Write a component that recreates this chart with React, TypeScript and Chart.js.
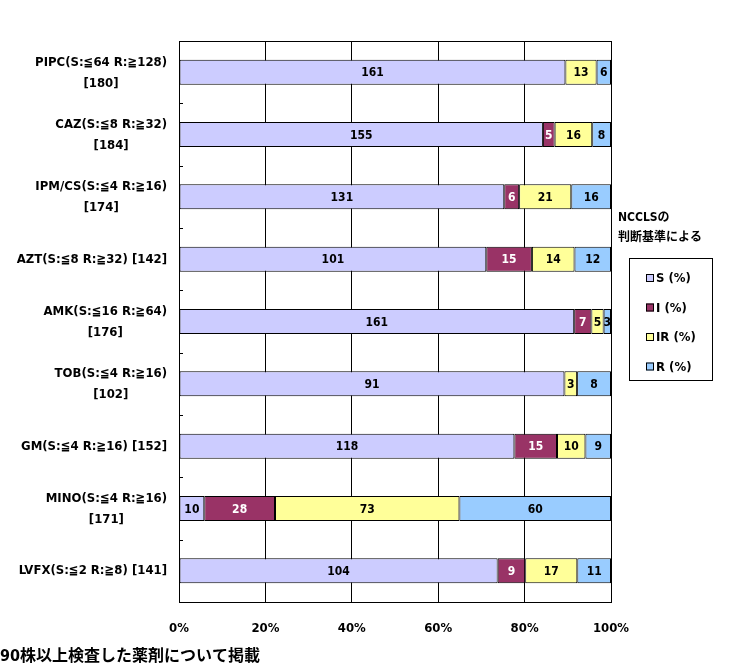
import { Chart, registerables } from "chart.js";
import { useEffect, useRef } from "react";

Chart.register(...registerables);

// 薬剤名 (判定基準) [株数]
const categories: string[][] = [
    ["PIPC(S:≦64 R:≧128)", "[180]"],
    ["CAZ(S:≦8 R:≧32)", "[184]"],
    ["IPM/CS(S:≦4 R:≧16)", "[174]"],
    ["AZT(S:≦8 R:≧32) [142]"],
    ["AMK(S:≦16 R:≧64)", "[176]"],
    ["TOB(S:≦4 R:≧16)", "[102]"],
    ["GM(S:≦4 R:≧16) [152]"],
    ["MINO(S:≦4 R:≧16)", "[171]"],
    ["LVFX(S:≦2 R:≧8) [141]"],
];

const seriesNames = ["S (%)", "I (%)", "IR (%)", "R (%)"];
const seriesColors = ["#CCCCFF", "#993366", "#FFFF99", "#99CCFF"];
const labelColors = ["#000000", "#FFFFFF", "#000000", "#000000"];

// 株数
const sValues = [161, 155, 131, 101, 161, 91, 118, 10, 104];
const iValues = [0, 5, 6, 15, 7, 0, 15, 28, 9];
const irValues = [13, 16, 21, 14, 5, 3, 10, 73, 17];
const rValues = [6, 8, 16, 12, 3, 8, 9, 60, 11];

const xTickLabels = ["0%", "20%", "40%", "60%", "80%", "100%"];

const legendTitle = ["NCCLSの", "判断基準による"];
const footNote = "90株以上検査した薬剤について掲載";

const FONT = '"Liberation Sans Narrow", "DejaVu Sans Condensed", "Noto Sans CJK JP", sans-serif';

export default function App() {
    const canvasRef = useRef<HTMLCanvasElement | null>(null);
    const chartRef = useRef<Chart | null>(null);

    useEffect(() => {
        if (!canvasRef.current) return;

        const counts = [sValues, iValues, irValues, rValues];
        const totals = sValues.map((_, i) => counts.reduce((a, s) => a + s[i], 0));

        const datasets = counts.map((vals, k) => ({
            label: seriesNames[k],
            data: vals.map((v, i) => (v > 0 ? (v / totals[i]) * 100 : null)),
            backgroundColor: seriesColors[k],
            borderColor: "#000000",
            borderWidth: 1,
            borderSkipped: false,
            barPercentage: 0.4,
            categoryPercentage: 1.0,
        }));

        // 棒の中の株数
        const valueLabels = {
            id: "valueLabels",
            afterDatasetsDraw(chart: any) {
                const { ctx } = chart;
                ctx.save();
                ctx.font = "bold 12px " + FONT;
                ctx.textAlign = "center";
                ctx.textBaseline = "middle";
                counts.forEach((vals, k) => {
                    const meta = chart.getDatasetMeta(k);
                    meta.data.forEach((el: any, i: number) => {
                        if (!vals[i]) return;
                        ctx.fillStyle = labelColors[k];
                        ctx.fillText(String(vals[i]), (el.x + el.base) / 2, el.y + 1);
                    });
                });
                ctx.restore();
            },
        };

        // 枠、目盛り、カテゴリ名、凡例、注記
        const decorations = {
            id: "decorations",
            afterDraw(chart: any) {
                const { ctx, chartArea } = chart;
                const yScale = chart.scales.y;
                const left = Math.round(chartArea.left);
                ctx.save();
                ctx.strokeStyle = "#000000";
                ctx.lineWidth = 1;
                ctx.strokeRect(
                    left + 0.5,
                    Math.round(chartArea.top) + 0.5,
                    Math.round(chartArea.right - chartArea.left),
                    Math.round(chartArea.bottom - chartArea.top)
                );

                // 内向きの目盛り (カテゴリ境界)
                ctx.beginPath();
                for (let i = 1; i < categories.length; i++) {
                    const yb = Math.round((yScale.getPixelForValue(i - 1) + yScale.getPixelForValue(i)) / 2) + 0.5;
                    ctx.moveTo(left, yb);
                    ctx.lineTo(left + 4, yb);
                }
                ctx.stroke();

                ctx.fillStyle = "#000000";
                ctx.font = "bold 13px " + FONT;
                ctx.textBaseline = "middle";
                categories.forEach((lines, i) => {
                    const y = yScale.getPixelForValue(i);
                    const xr = 167;
                    if (lines.length === 1) {
                        ctx.textAlign = "right";
                        ctx.fillText(lines[0], xr, y);
                    } else {
                        const w = ctx.measureText(lines[0]).width;
                        ctx.textAlign = "right";
                        ctx.fillText(lines[0], xr, y - 10);
                        ctx.textAlign = "center";
                        ctx.fillText(lines[1], xr - w / 2, y + 11);
                    }
                });

                // 凡例
                ctx.textAlign = "left";
                ctx.font = "bold 12px " + FONT;
                ctx.fillText(legendTitle[0], 618, 218);
                ctx.fillText(legendTitle[1], 618, 238);
                ctx.strokeRect(629.5, 258.5, 83, 122);
                seriesNames.forEach((name, k) => {
                    const y = 278 + k * 29.5;
                    ctx.fillStyle = seriesColors[k];
                    ctx.fillRect(646, y - 4, 8, 8);
                    ctx.strokeRect(646.5, y - 3.5, 7, 7);
                    ctx.fillStyle = "#000000";
                    ctx.font = "bold 13px " + FONT;
                    ctx.fillText(name, 656, y + 1);
                });

                ctx.font = "bold 16px " + FONT;
                ctx.textAlign = "left";
                ctx.fillText(footNote, 0, 657);
                ctx.restore();
            },
        };

        if (chartRef.current) chartRef.current.destroy();

        chartRef.current = new Chart(canvasRef.current, {
            type: "bar",
            data: {
                labels: categories.map((c) => c.join(" ")),
                datasets: datasets as any,
            },
            options: {
                indexAxis: "y",
                responsive: true,
                maintainAspectRatio: false,
                animation: false,
                layout: { padding: { left: 171, right: 127, top: 41, bottom: 40 } },
                plugins: {
                    legend: { display: false },
                    tooltip: { enabled: false },
                },
                scales: {
                    x: {
                        stacked: true,
                        min: 0,
                        max: 100,
                        afterFit: (s: any) => { s.height = 30; },
                        grid: { color: "#000000", drawTicks: false, lineWidth: 1 },
                        border: { display: true, color: "#000000" },
                        ticks: {
                            stepSize: 20,
                            padding: 19,
                            color: "#000000",
                            font: { family: FONT, size: 13, weight: "bold" },
                            callback: (_v: any, i: number) => xTickLabels[i],
                        },
                    },
                    y: {
                        stacked: true,
                        afterFit: (s: any) => { s.width = 8; },
                        grid: { display: false },
                        border: { display: true, color: "#000000" },
                        ticks: { display: false },
                    },
                },
            } as any,
            plugins: [valueLabels, decorations],
        });

        return () => {
            if (chartRef.current) chartRef.current.destroy();
            chartRef.current = null;
        };
    }, []);

    return (
        <div style={{ position: "absolute", left: 0, top: 0, width: 738, height: 672, background: "#ffffff" }}>
            <canvas ref={canvasRef} />
        </div>
    );
}
